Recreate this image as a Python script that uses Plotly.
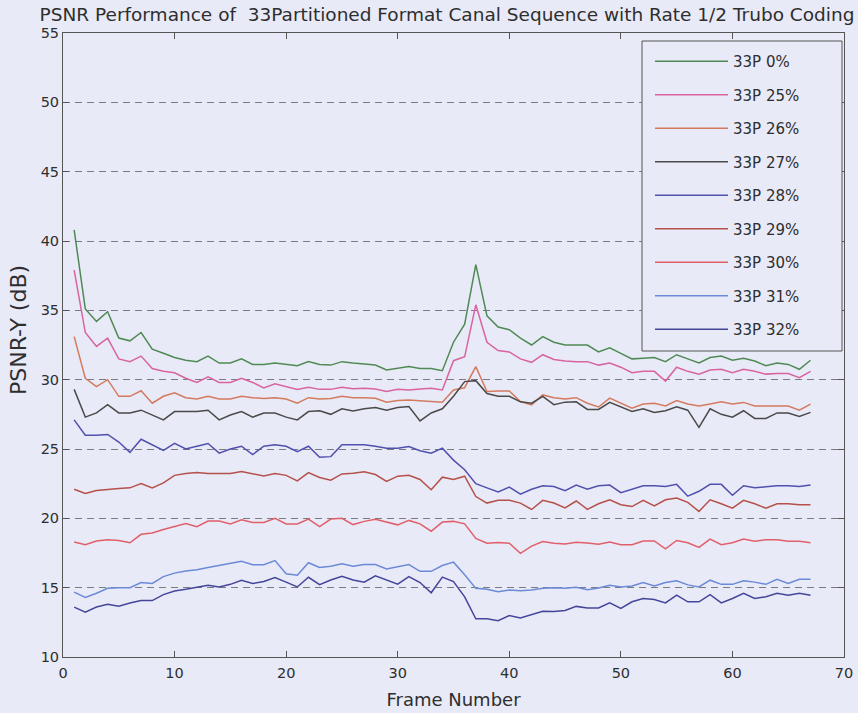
import plotly.graph_objects as go

# Frame index (1..67)
frames = list(range(1, 68))

# PSNR-Y (dB) per frame for each partition loss rate
psnr_0 = [40.8, 35.1, 34.2, 34.9, 33.0, 32.8, 33.4, 32.2, 31.9, 31.6,
          31.4, 31.3, 31.7, 31.2, 31.2, 31.5, 31.1, 31.1, 31.2, 31.1,
          31.0, 31.3, 31.1, 31.05, 31.3, 31.2, 31.15, 31.05, 30.7, 30.85,
          30.95, 30.8, 30.8, 30.65, 32.7, 34.0, 38.3, 34.6, 33.8, 33.6,
          33.0, 32.5, 33.1, 32.7, 32.5, 32.5, 32.5, 32.0, 32.3, 31.9,
          31.5, 31.55, 31.6, 31.3, 31.8, 31.5, 31.2, 31.6, 31.7, 31.4,
          31.55, 31.35, 31.0, 31.2, 31.1, 30.75, 31.4]
psnr_25 = [37.9, 33.4, 32.4, 33.0, 31.5, 31.3, 31.7, 30.8, 30.6, 30.5,
           30.1, 29.8, 30.2, 29.8, 29.8, 30.1, 29.8, 29.4, 29.7, 29.5,
           29.3, 29.45, 29.3, 29.3, 29.45, 29.35, 29.38, 29.33, 29.14, 29.3,
           29.26, 29.33, 29.38, 29.26, 31.37, 31.65, 35.4, 32.7, 32.1, 32.0,
           31.5, 31.25, 31.8, 31.46, 31.35, 31.3, 31.3, 31.05, 31.2, 30.9,
           30.5, 30.6, 30.6, 29.9, 30.9, 30.6, 30.4, 30.7, 30.75, 30.5,
           30.75, 30.6, 30.4, 30.45, 30.45, 30.15, 30.6]
psnr_26 = [33.1, 30.1, 29.5, 30.0, 28.8, 28.8, 29.2, 28.3, 28.8, 29.05,
           28.7, 28.6, 28.8, 28.6, 28.6, 28.8, 28.7, 28.65, 28.7, 28.6,
           28.3, 28.7, 28.6, 28.65, 28.8, 28.7, 28.7, 28.66, 28.37, 28.5,
           28.54, 28.47, 28.42, 28.37, 29.26, 29.42, 30.94, 29.14, 29.18, 29.18,
           28.42, 28.18, 28.9, 28.7, 28.6, 28.7, 28.3, 28.03, 28.67, 28.3,
           27.95, 28.24, 28.3, 28.1, 28.5, 28.24, 28.1, 28.24, 28.4, 28.24,
           28.36, 28.1, 28.1, 28.1, 28.1, 27.8, 28.24]
psnr_27 = [29.3, 27.3, 27.6, 28.2, 27.6, 27.6, 27.8, 27.45, 27.1, 27.7,
           27.7, 27.7, 27.8, 27.1, 27.45, 27.7, 27.3, 27.6, 27.6, 27.3,
           27.1, 27.7, 27.75, 27.5, 27.9, 27.75, 27.9, 28.0, 27.8, 28.0,
           28.06, 27.03, 27.6, 27.9, 28.8, 29.86, 29.93, 29.0, 28.8, 28.8,
           28.4, 28.3, 28.8, 28.2, 28.38, 28.4, 27.85, 27.85, 28.36, 28.05,
           27.7, 27.9, 27.64, 27.76, 28.05, 27.8, 26.56, 27.9, 27.5, 27.3,
           27.76, 27.2, 27.2, 27.6, 27.6, 27.35, 27.64]
psnr_28 = [27.1, 26.0, 26.0, 26.05, 25.5, 24.76, 25.7, 25.3, 24.9, 25.4,
           25.0, 25.2, 25.4, 24.7, 25.0, 25.2, 24.6, 25.2, 25.3, 25.2,
           24.8, 25.2, 24.4, 24.45, 25.3, 25.3, 25.3, 25.2, 25.06, 25.06,
           25.18, 24.87, 24.7, 25.06, 24.2, 23.5, 22.5, 22.2, 21.9, 22.25,
           21.75, 22.1, 22.35, 22.3, 22.0, 22.4, 22.1, 22.35, 22.4, 21.85,
           22.1, 22.35, 22.35, 22.3, 22.45, 21.6, 21.95, 22.45, 22.45, 21.66,
           22.35, 22.2, 22.27, 22.35, 22.35, 22.3, 22.4]
psnr_29 = [22.1, 21.8, 22.0, 22.1, 22.15, 22.2, 22.5, 22.2, 22.56, 23.1,
           23.24, 23.3, 23.24, 23.24, 23.24, 23.37, 23.2, 23.05, 23.24, 23.1,
           22.7, 23.3, 22.95, 22.75, 23.2, 23.25, 23.36, 23.16, 22.67, 23.04,
           23.1, 22.8, 22.06, 22.97, 22.8, 23.04, 21.57, 21.1, 21.3, 21.3,
           21.1, 20.64, 21.3, 21.1, 20.75, 21.25, 20.65, 21.05, 21.34, 20.98,
           20.85, 21.3, 20.9, 21.34, 21.46, 21.15, 20.5, 21.34, 21.05, 20.73,
           21.3, 21.05, 20.73, 21.05, 21.05, 20.98, 20.98]
psnr_30 = [18.3, 18.1, 18.37, 18.46, 18.4, 18.24, 18.85, 18.95, 19.2, 19.44,
           19.63, 19.4, 19.8, 19.8, 19.6, 19.9, 19.7, 19.7, 20.0, 19.6,
           19.6, 19.95, 19.4, 19.95, 20.0, 19.55, 19.78, 19.93, 19.73, 19.53,
           19.85, 19.6, 19.07, 19.73, 19.78, 19.6, 18.55, 18.2, 18.26, 18.2,
           17.48, 18.0, 18.33, 18.2, 18.15, 18.27, 18.22, 18.13, 18.3, 18.1,
           18.1, 18.37, 18.37, 17.8, 18.4, 18.24, 17.9, 18.5, 18.1, 18.24,
           18.5, 18.34, 18.46, 18.46, 18.34, 18.34, 18.24]
psnr_31 = [14.68, 14.3, 14.6, 14.95, 15.0, 15.0, 15.37, 15.3, 15.8, 16.05,
           16.2, 16.3, 16.46, 16.6, 16.76, 16.9, 16.66, 16.66, 16.95, 16.0,
           15.9, 16.8, 16.45, 16.55, 16.72, 16.55, 16.67, 16.67, 16.35, 16.5,
           16.67, 16.18, 16.18, 16.6, 16.84, 15.93, 14.95, 14.88, 14.7, 14.83,
           14.78, 14.83, 14.95, 15.0, 14.95, 15.03, 14.85, 14.97, 15.17, 15.05,
           15.12, 15.37, 15.12, 15.37, 15.5, 15.2, 15.05, 15.54, 15.24, 15.24,
           15.5, 15.4, 15.24, 15.6, 15.3, 15.6, 15.6]
psnr_32 = [13.6, 13.24, 13.6, 13.8, 13.66, 13.9, 14.07, 14.07, 14.5, 14.76,
           14.88, 15.05, 15.17, 15.05, 15.24, 15.54, 15.3, 15.44, 15.73, 15.4,
           15.05, 15.75, 15.22, 15.55, 15.82, 15.55, 15.4, 15.86, 15.56, 15.25,
           15.8, 15.37, 14.63, 15.76, 15.44, 14.34, 12.75, 12.75, 12.62, 12.99,
           12.82, 13.04, 13.3, 13.28, 13.35, 13.65, 13.53, 13.53, 13.9, 13.5,
           13.98, 14.22, 14.15, 13.9, 14.46, 13.98, 13.98, 14.5, 13.9, 14.22,
           14.6, 14.22, 14.34, 14.6, 14.46, 14.6, 14.46]

series_names = ["33P 0%", "33P 25%", "33P 26%", "33P 27%", "33P 28%",
                "33P 29%", "33P 30%", "33P 31%", "33P 32%"]
series_values = [psnr_0, psnr_25, psnr_26, psnr_27, psnr_28,
                 psnr_29, psnr_30, psnr_31, psnr_32]
series_colors = ["#4f8a55", "#d864a0", "#d47a5f", "#4a4a4a", "#5050ae",
                 "#b5504a", "#e05f6b", "#6a8ad8", "#45469a"]

x_ticks = [0, 10, 20, 30, 40, 50, 60, 70]
y_ticks = [10, 15, 20, 25, 30, 35, 40, 45, 50, 55]

BG = "#e9eaf7"
AXIS = "#555555"
TEXT = "#2e2e2e"
FONT = "DejaVu Sans"

# plot area in pixels
L, R, T, B = 63, 844, 33, 657
W_PLOT, H_PLOT = R - L, B - T

fig = go.Figure()
for i, (name, vals, col) in enumerate(zip(series_names, series_values, series_colors)):
    fig.add_trace(go.Scatter(
        x=frames, y=vals, mode="lines", name=name,
        legendgroup=f"g{i}",
        line=dict(color=col, width=1.5),
    ))

fig.update_layout(
    width=858, height=713,
    margin=dict(l=L, r=858 - R, t=T, b=713 - B, autoexpand=False),
    paper_bgcolor=BG, plot_bgcolor=BG,
    font=dict(family=FONT, color=TEXT, size=14.5),
    title=dict(
        text="PSNR Performance of  33Partitioned Format Canal Sequence with Rate 1/2 Trubo Coding",
        font=dict(size=18.5, color=TEXT, family=FONT),
        x=447 / 858, xref="container", xanchor="center",
        y=1 - 14.5 / 713, yref="container", yanchor="middle",
    ),
    showlegend=True,
    legend=dict(
        x=(656 - L - 6) / W_PLOT, xanchor="left",
        y=(B - 45) / H_PLOT, yanchor="top",
        bgcolor="rgba(0,0,0,0)", borderwidth=0,
        font=dict(size=15, color=TEXT, family=FONT),
        itemwidth=73, tracegroupgap=11,
    ),
    # opaque legend frame
    shapes=[dict(
        type="rect", xref="paper", yref="paper", layer="above",
        x0=(642 - L) / W_PLOT, x1=(842 - L) / W_PLOT,
        y0=(B - 351) / H_PLOT, y1=(B - 41) / H_PLOT,
        fillcolor=BG, line=dict(color=AXIS, width=1),
    )],
    annotations=[dict(
        text="PSNR-Y (dB)", textangle=-90, showarrow=False,
        xref="paper", yref="paper",
        x=(18 - L) / W_PLOT, y=(B - 330) / H_PLOT,
        xanchor="center", yanchor="middle",
        font=dict(size=22, color=TEXT, family=FONT),
    )],
)

fig.update_xaxes(
    range=[0, 70], tickvals=x_ticks, showgrid=False, zeroline=False,
    showline=True, linecolor=AXIS, linewidth=1, mirror="ticks",
    ticks="inside", ticklen=6, tickcolor=AXIS, ticklabelstandoff=3,
    tickfont=dict(size=14.5, color=TEXT),
    title=dict(text="Frame Number", font=dict(size=18, color=TEXT), standoff=12),
)
fig.update_yaxes(
    range=[10, 55], tickvals=y_ticks, zeroline=False,
    showgrid=True, gridcolor="#7a7a80", gridwidth=1.2, griddash="7px,5px",
    showline=True, linecolor=AXIS, linewidth=1, mirror="ticks",
    ticks="inside", ticklen=6, tickcolor=AXIS,
    tickfont=dict(size=14.5, color=TEXT),
)

fig.write_html("out.html")
